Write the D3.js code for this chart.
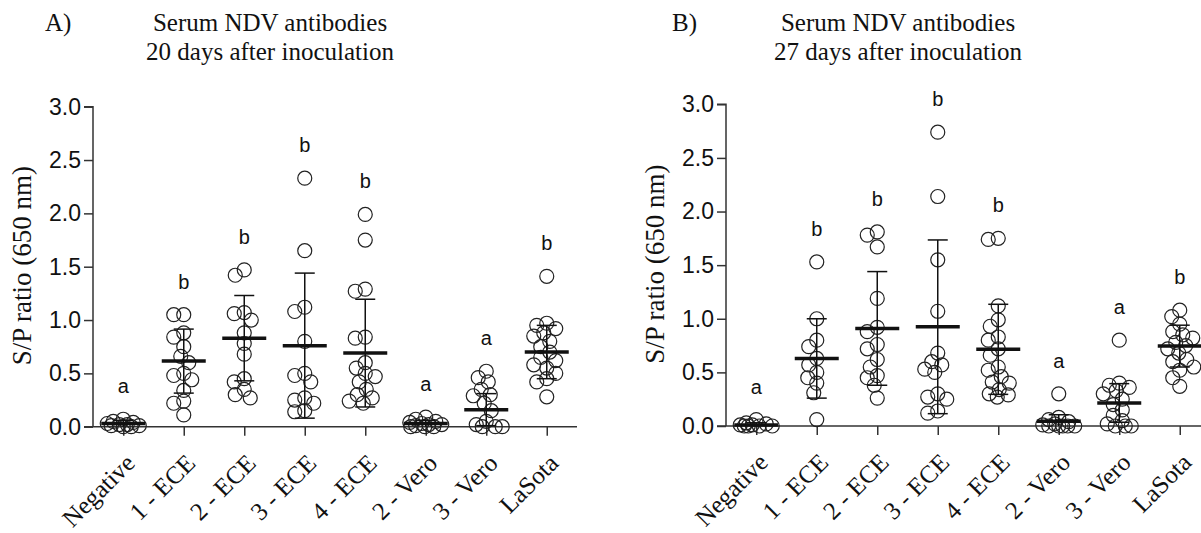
<!DOCTYPE html>
<html>
<head>
<meta charset="utf-8">
<script src="https://cdn.jsdelivr.net/npm/d3@7"></script>
<style>
  body { margin: 0; background: #fff; }
  svg { display: block; }
  .serif { font-family: "Liberation Serif", "Times New Roman", serif; fill: #111; }
  .sans { font-family: "Liberation Sans", Arial, sans-serif; fill: #111; }
</style>
</head>
<body>
<div id="chart"></div>
<script>
var svgWidth = 1201;
var svgHeight = 533;

// groups on the x axis
var groups = ["Negative", "1 - ECE", "2 - ECE", "3 - ECE", "4 - ECE", "2 - Vero", "3 - Vero", "LaSota"];

// A) 20 days after inoculation - S/P ratio of each bird
var day20 = [
  [0.00, 0.00, 0.01, 0.01, 0.02, 0.02, 0.03, 0.04, 0.05, 0.07],
  [1.05, 1.05, 0.88, 0.84, 0.75, 0.66, 0.60, 0.50, 0.48, 0.44, 0.34, 0.24, 0.22, 0.11],
  [1.47, 1.42, 1.07, 1.06, 1.00, 0.88, 0.78, 0.68, 0.45, 0.42, 0.35, 0.30, 0.27],
  [2.33, 1.65, 1.12, 1.08, 0.80, 0.50, 0.48, 0.42, 0.27, 0.25, 0.22, 0.15, 0.14],
  [1.99, 1.75, 1.29, 1.27, 0.84, 0.83, 0.60, 0.55, 0.50, 0.47, 0.42, 0.35, 0.30, 0.27, 0.24, 0.22],
  [0.09, 0.07, 0.05, 0.04, 0.03, 0.02, 0.02, 0.01, 0.00, 0.00, 0.00],
  [0.52, 0.46, 0.42, 0.35, 0.30, 0.29, 0.22, 0.15, 0.05, 0.02, 0.00, 0.00, 0.00],
  [1.41, 0.97, 0.95, 0.92, 0.88, 0.85, 0.80, 0.75, 0.70, 0.65, 0.62, 0.58, 0.55, 0.50, 0.45, 0.42, 0.28]
];
var day20Mean = [0.03, 0.615, 0.83, 0.76, 0.69, 0.03, 0.16, 0.70];
var day20SD = [0.03, 0.30, 0.40, 0.68, 0.505, 0.03, 0.15, 0.25];
var day20Letters = ["a", "b", "b", "b", "b", "a", "a", "b"];

// B) 27 days after inoculation
var day27 = [
  [0.06, 0.03, 0.02, 0.01, 0.01, 0.00, 0.00, 0.00, 0.00],
  [1.53, 1.00, 0.80, 0.74, 0.63, 0.57, 0.50, 0.45, 0.40, 0.31, 0.06],
  [1.81, 1.78, 1.67, 1.19, 0.92, 0.88, 0.76, 0.72, 0.62, 0.55, 0.47, 0.45, 0.38, 0.26],
  [2.74, 2.14, 1.55, 1.07, 0.68, 0.60, 0.57, 0.53, 0.50, 0.30, 0.27, 0.25, 0.14, 0.12],
  [1.75, 1.74, 1.12, 0.99, 0.93, 0.83, 0.80, 0.72, 0.66, 0.55, 0.52, 0.46, 0.41, 0.40, 0.34, 0.30, 0.29, 0.27],
  [0.30, 0.08, 0.06, 0.04, 0.02, 0.01, 0.00, 0.00, 0.00, 0.00, 0.00],
  [0.80, 0.40, 0.38, 0.36, 0.33, 0.30, 0.25, 0.20, 0.15, 0.10, 0.05, 0.02, 0.00, 0.00, 0.00],
  [1.08, 1.02, 0.95, 0.88, 0.85, 0.82, 0.78, 0.75, 0.72, 0.68, 0.62, 0.60, 0.55, 0.52, 0.45, 0.37]
];
var day27Mean = [0.01, 0.63, 0.91, 0.925, 0.715, 0.045, 0.215, 0.745];
var day27SD = [0.02, 0.37, 0.53, 0.81, 0.42, 0.06, 0.18, 0.195];
var day27Letters = ["a", "b", "b", "b", "b", "a", "a", "b"];

var yTicks = [0, 0.5, 1.0, 1.5, 2.0, 2.5, 3.0];

var svg = d3.select("#chart")
  .append("svg")
  .attr("width", svgWidth)
  .attr("height", svgHeight);

// simple swarm layout: push each point sideways until it clears the others
// (points are allowed to overlap a bit, like the original plot)
function swarm(values, yScale, minDist, maxOff) {
  var placed = [];
  var order = values.map((v, i) => i).sort((a, b) => values[b] - values[a]);
  var out = new Array(values.length);
  order.forEach(function(i) {
    var y = yScale(values[i]);
    var best = 0, bestGap = -1;
    for (var k = 0; k <= maxOff * 2; k++) {
      var cand = (k % 2 === 0 ? 1 : -1) * Math.ceil(k / 2);
      var gap = d3.min(placed, p => Math.hypot(p.x - cand, p.y - y));
      if (gap === undefined || gap >= minDist) { best = cand; bestGap = Infinity; break; }
      if (gap > bestGap) { bestGap = gap; best = cand; }
    }
    placed.push({x: best, y: y});
    out[i] = best;
  });
  return out;
}

function drawPanel(opt) {
  var g = svg.append("g");

  var xScale = d3.scalePoint()
    .domain(groups)
    .range([opt.left, opt.right])
    .padding(0.5);

  var yScale = d3.scaleLinear()
    .domain([0, 3])
    .range([opt.bottom, opt.top]);

  // y axis
  var leftAxis = d3.axisLeft(yScale)
    .tickValues(yTicks)
    .tickFormat(d3.format(".1f"))
    .tickSize(9)
    .tickPadding(3);

  var yAxis = g.append("g")
    .attr("transform", `translate(${opt.left}, 0)`)
    .call(leftAxis);
  yAxis.select(".domain").attr("d", `M-9,${opt.top}H0V${opt.bottom}`);

  // x axis
  var bottomAxis = d3.axisBottom(xScale)
    .tickSize(9)
    .tickFormat("");

  var xAxis = g.append("g")
    .attr("transform", `translate(0, ${opt.bottom})`)
    .call(bottomAxis);
  xAxis.select(".domain").attr("d", `M${opt.left - 9},0H${opt.right}`);

  g.selectAll(".domain, .tick line")
    .attr("stroke", "#333")
    .attr("stroke-width", 1.5);
  yAxis.selectAll(".tick text")
    .attr("class", "sans")
    .style("font-size", "23px");

  // rotated group labels
  g.selectAll(".xlabel")
    .data(groups)
    .enter()
    .append("text")
    .attr("class", "serif")
    .attr("text-anchor", "end")
    .attr("transform", d => `translate(${xScale(d) + 13}, ${opt.bottom + 38}) rotate(-45)`)
    .style("font-size", "25px")
    .text(d => d);

  // y axis title
  g.append("text")
    .attr("class", "serif")
    .attr("text-anchor", "middle")
    .attr("transform", `translate(${opt.left - 62}, ${(opt.top + opt.bottom) / 2 - 1}) rotate(-90)`)
    .style("font-size", "27px")
    .text("S/P ratio (650 nm)");

  // panel titles
  g.append("text")
    .attr("class", "serif")
    .attr("x", opt.tag)
    .attr("y", 31)
    .style("font-size", "25px")
    .text(opt.label);

  g.append("text")
    .attr("class", "serif")
    .attr("text-anchor", "middle")
    .attr("x", opt.titleX)
    .attr("y", 31)
    .style("font-size", "25px")
    .text("Serum NDV antibodies");

  g.append("text")
    .attr("class", "serif")
    .attr("text-anchor", "middle")
    .attr("x", opt.titleX)
    .attr("y", 60)
    .style("font-size", "25px")
    .text(opt.subtitle);

  // dots
  opt.data.forEach(function(vals, gi) {
    var offsets = swarm(vals, yScale, 10, 16);
    var cx = xScale(groups[gi]);

    g.append("g")
      .selectAll("circle")
      .data(vals)
      .enter()
      .append("circle")
      .attr("cx", (d, i) => cx + offsets[i])
      .attr("cy", d => yScale(d))
      .attr("r", 7)
      .attr("fill", "none")
      .attr("stroke", "#222")
      .attr("stroke-width", 1.2);

    // mean +/- SD
    var m = opt.mean[gi];
    var s = opt.sd[gi];
    var eb = g.append("g").attr("stroke", "#111");
    eb.append("line")
      .attr("x1", cx).attr("x2", cx)
      .attr("y1", yScale(Math.max(0, m - s))).attr("y2", yScale(m + s))
      .attr("stroke-width", 1.5);
    eb.append("line")
      .attr("x1", cx - 10).attr("x2", cx + 10)
      .attr("y1", yScale(m + s)).attr("y2", yScale(m + s))
      .attr("stroke-width", 1.5);
    if (m - s > 0) {
      eb.append("line")
        .attr("x1", cx - 10).attr("x2", cx + 10)
        .attr("y1", yScale(m - s)).attr("y2", yScale(m - s))
        .attr("stroke-width", 1.5);
    }
    eb.append("line")
      .attr("x1", cx - 22).attr("x2", cx + 22)
      .attr("y1", yScale(m)).attr("y2", yScale(m))
      .attr("stroke-width", 3.5);

    // significance letter
    g.append("text")
      .attr("class", "sans")
      .attr("text-anchor", "middle")
      .attr("x", cx)
      .attr("y", yScale(d3.max(vals)) - 26)
      .style("font-size", "20px")
      .text(opt.letters[gi]);
  });
}

drawPanel({
  data: day20, mean: day20Mean, sd: day20SD, letters: day20Letters,
  left: 93, right: 577, top: 106.7, bottom: 426.7,
  tag: 45, label: "A)", titleX: 270, subtitle: "20 days after inoculation"
});

drawPanel({
  data: day27, mean: day27Mean, sd: day27SD, letters: day27Letters,
  left: 726, right: 1210, top: 104.3, bottom: 426,
  tag: 672, label: "B)", titleX: 898, subtitle: "27 days after inoculation"
});
</script>
</body>
</html>
